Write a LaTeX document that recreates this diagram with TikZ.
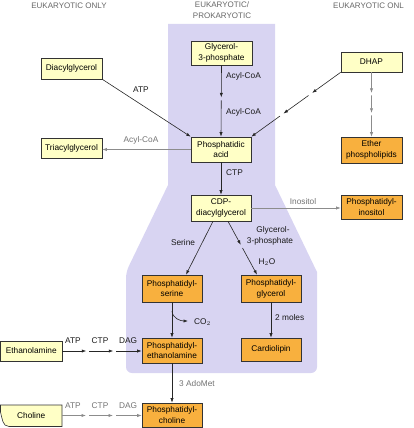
\documentclass[tikz,border=0pt]{standalone}
\usepackage{fontspec}
\setmainfont{Liberation Sans}
\usetikzlibrary{arrows.meta,calc}
\definecolor{bgpurple}{HTML}{D8D4F2}
\definecolor{yel}{HTML}{FFFFC6}
\definecolor{org}{HTML}{F8B03E}
\newcommand{\lblfont}{\fontsize{8.3}{10.8}\selectfont}
\newcommand{\hdfont}{\fontsize{8}{10.5}\selectfont}
\begin{document}
\begin{tikzpicture}[x=1pt,y=-1pt,
  box/.style={draw=black!80, line width=0.6pt, inner sep=0pt, align=center, font=\lblfont, text=black},
  ybox/.style={box, fill=yel},
  obox/.style={box, fill=org},
  arr/.style={draw=black!85, line width=0.6pt, -{Latex[length=4.5pt,width=3.2pt]}},
  garr/.style={arr, draw=black!45},
  lab/.style={font=\lblfont, inner sep=0pt, text=black!90},
  glab/.style={lab, text=black!55},
  head/.style={font=\hdfont, text=black!60, inner sep=0pt, align=center}
]
\useasboundingbox (0,0) rectangle (414,428);
% background region
\fill[bgpurple] (168,24) -- (275,24) -- (275,185) -- (317,272) [rounded corners=6pt] -- (317,373) -- (126,373) -- (126,272) [sharp corners] -- (168,185) -- cycle;

% headers
\node[head] (h1) at (69,6) {EUKARYOTIC ONLY};
\node[head] (h2) at (222,10) {EUKARYOTIC/\\PROKARYOTIC};
\node[head, anchor=west] (h3) at (333,6) {EUKARYOTIC ONL};

% boxes
\node[ybox, minimum width=61, minimum height=24] (g3p) at (221.5,53) {Glycerol-\\3-phosphate};
\node[ybox, minimum width=61, minimum height=21] (dag) at (71.5,68.5) {Diacylglycerol};
\node[ybox, minimum width=61, minimum height=20] (dhap) at (371.5,62) {DHAP};
\node[ybox, minimum width=60, minimum height=25] (pa) at (221,149.5) {Phosphatidic\\acid};
\node[ybox, minimum width=61, minimum height=20] (tag) at (71.5,148) {Triacylglycerol};
\node[obox, minimum width=61, minimum height=26] (eth) at (371.5,150) {Ether\\phospholipids};
\node[ybox, minimum width=60, minimum height=26] (cdp) at (221,208) {CDP-\\diacylglycerol};
\node[obox, minimum width=61, minimum height=24] (pi) at (371.5,207) {Phosphatidyl-\\inositol};
\node[obox, minimum width=60, minimum height=27] (ps) at (172,288.5) {Phosphatidyl-\\serine};
\node[obox, minimum width=60, minimum height=27] (pg) at (271,288.5) {Phosphatidyl-\\glycerol};
\node[obox, minimum width=60, minimum height=25] (pe) at (172,350.5) {Phosphatidyl-\\ethanolamine};
\node[obox, minimum width=60, minimum height=23] (cl) at (271,349.5) {Cardiolipin};
\node[obox, minimum width=60, minimum height=24] (pc) at (172,415) {Phosphatidyl-\\choline};
\node[ybox, minimum width=61.5, minimum height=20] (etn) at (31.25,351) {Ethanolamine};
% choline box with rounded lower-left corner
\filldraw[fill=yel, draw=black!80, line width=0.6pt] (0.5,405) -- (62,405) -- (62,426.5) -- (9,426.5) to[out=180,in=-75] (0.5,412) -- cycle;
\node[lab, text=black, minimum width=61.5, minimum height=21.5] (cho) at (31.25,415.75) {Choline};

% connectors
\draw[arr] (g3p.south) -- ($(g3p.south)!0.45!(pa.north)$);
\draw[arr] ($(g3p.south)!0.49!(pa.north)$) -- (pa.north);
\node[lab, anchor=west] (l1) at (226,76) {Acyl-CoA};
\node[lab, anchor=west] (l2) at (226,112) {Acyl-CoA};

\draw[arr] (dag.south east) -- (pa.north west);
\node[lab] (l3) at (141,90) {ATP};

\draw[arr] (dhap.south west) -- ($(dhap.south west)!0.32!(pa.north east)$);
\draw[arr] ($(dhap.south west)!0.36!(pa.north east)$) -- ($(dhap.south west)!0.64!(pa.north east)$);
\draw[arr] ($(dhap.south west)!0.68!(pa.north east)$) -- (pa.north east);

\draw[garr] (dhap.south) -- ($(dhap.south)!0.32!(eth.north)$);
\draw[garr] ($(dhap.south)!0.36!(eth.north)$) -- ($(dhap.south)!0.63!(eth.north)$);
\draw[garr] ($(dhap.south)!0.67!(eth.north)$) -- (eth.north);

\draw[garr] (pa.west) -- (pa.west -| tag.east);
\node[glab] (l4) at (141,140) {Acyl-CoA};

\draw[arr] (pa.south) -- (cdp.north);
\node[lab, anchor=west] (l5) at (226,173) {CTP};

\draw[garr] (cdp.east) -- (cdp.east -| pi.west);
\node[glab] (l6) at (303,202) {Inositol};

\draw[arr] ($(cdp.south)+(-8,0)$) -- ($(ps.north)+(14,0)$);
\node[lab] (l7) at (183,243) {Serine};

\draw[arr] ($(cdp.south)+(7,0)$) -- ($($(cdp.south)+(7,0)$)!0.44!($(pg.north)+(-14,0)$)$);
\draw[arr] ($($(cdp.south)+(7,0)$)!0.5!($(pg.north)+(-14,0)$)$) -- ($(pg.north)+(-14,0)$);
\node[lab] (l8) at (273,230) {Glycerol-};
\node[lab] (l9) at (270,241) {3-phosphate};
\node[lab] (l10) at (267,262) {H$_2$O};

\draw[arr] (ps.south) -- (pe.north);
\coordinate (co) at ($(ps.south)!0.25!(pe.north)$);
\draw[arr] (co) to[out=-85,in=180] (188,321);
\node[lab, anchor=west] (l11) at (194,322) {CO$_2$};

\draw[arr] (pg.south) -- (cl.north);
\node[lab, anchor=west] (l12) at (275,318) {2 moles};

\draw[arr] (etn.east) -- ++(24,0);
\draw[arr] ($(etn.east)+(27,0)$) -- ++(24,0);
\draw[arr] ($(etn.east)+(54,0)$) -- (etn.east -| pe.west);
\node[lab] (l13) at (73,341) {ATP};
\node[lab] (l14) at (100,341) {CTP};
\node[lab] (l15) at (128,341) {DAG};

\draw[arr] (pe.south) -- (pc.north);
\node[glab] (l16) at (197,384) {3 AdoMet};

\coordinate (chE) at (62,415.5);
\draw[garr] (chE) -- ++(24,0);
\draw[garr] ($(chE)+(27,0)$) -- ++(24,0);
\draw[garr] ($(chE)+(54,0)$) -- (chE -| pc.west);
\node[glab] (l17) at (73,406) {ATP};
\node[glab] (l18) at (100,406) {CTP};
\node[glab] (l19) at (128,406) {DAG};
\end{tikzpicture}
\end{document}
